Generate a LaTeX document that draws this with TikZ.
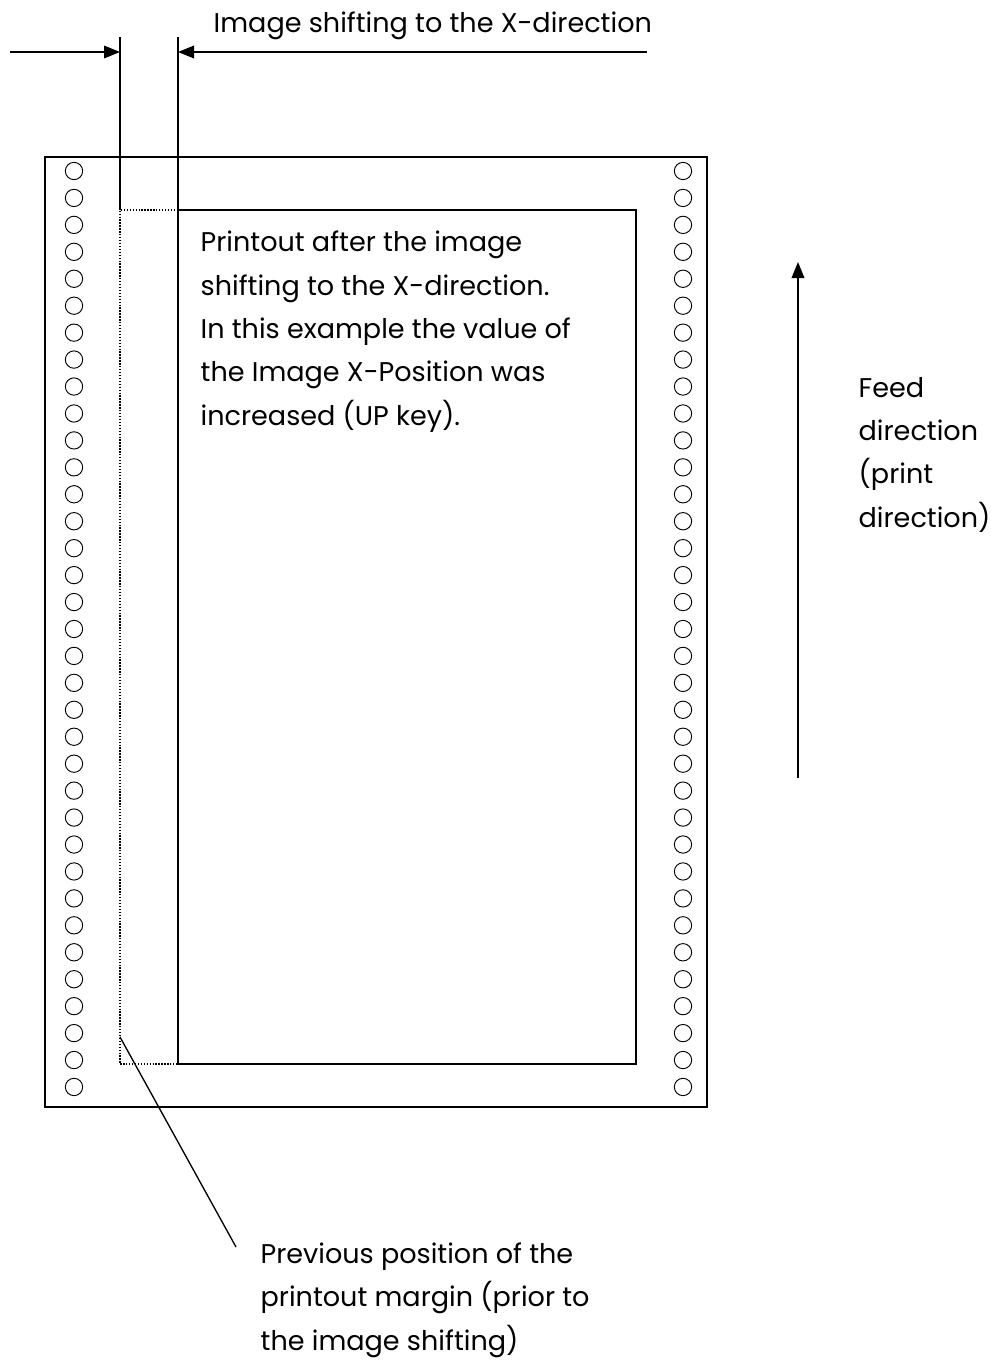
\documentclass[tikz,border=0pt]{standalone}
\usepackage{fontspec}
\setmainfont{Poppins}
\usetikzlibrary{arrows.meta}

\tikzset{
  hole/.style={circle, draw, line width=0.7pt, minimum size=13pt, inner sep=0pt},
  txt/.style={align=left, inner sep=0pt, anchor=base west, font=\fontsize{20.3}{32.5}\selectfont},
  arrow/.style={line width=1pt, -{Triangle[length=12pt, width=9.5pt]}},
  oldedge/.style={line width=1.3pt, dash pattern=on 1pt off 1.2pt},
}

\begin{document}
\begin{tikzpicture}[x=0.75pt, y=-0.75pt, line width=1pt]
			\useasboundingbox (0,0) rectangle (991,1360);
			
			\draw (45,157) rectangle (707,1107);
			\foreach \i in {0,...,34} {
				\node[hole] (l\i) at (74,{171+26.94*\i}) {};
				\node[hole] (r\i) at (683,{171+26.94*\i}) {};
			}
			
			\coordinate (oldnw) at (120,210);
			\coordinate (oldsw) at (120,1064);
			\coordinate (newnw) at (178,210);
			\coordinate (newsw) at (178,1064);
			\coordinate (newse) at (636,1064);
			\coordinate (oldtop) at (120,37);
			\coordinate (newtop) at (178,37);
			\coordinate (oldmark) at (120,52);
			\coordinate (newmark) at (178,52);
			\coordinate (leftend) at (10,52);
			\coordinate (rightend) at (647,52);
			
			\draw (newnw) rectangle (newse);
			\draw[oldedge] (newnw) -- (oldnw) -- (oldsw) -- (newsw);
			\draw (oldnw) -- (oldtop);
			\draw (newnw) -- (newtop);
			\draw[arrow] (leftend) -- (oldmark);
			\draw[arrow] (rightend) -- (newmark);
			
			\node[txt] (shift) at (213,32) {Image shifting to the X-direction};
			\node[txt] (printout) at (200,425) {Printout after the image\\shifting to the X-direction.\\In this example the value of\\the Image X-Position was\\increased (UP key).};
			
			\coordinate (feedtail) at (798,778);
			\coordinate (feedhead) at (798,262);
			\draw[arrow] (feedtail) -- (feedhead);
			\node[txt] (feed) at (858,527) {Feed\\direction\\(print\\direction)};
			
			\coordinate (leadstart) at (120,1037);
			\coordinate (leadend) at (236,1247);
			\draw (leadstart) -- (leadend);
			\node[txt] (previous) at (260,1350) {Previous position of the\\printout margin (prior to\\the image shifting)};
		\end{tikzpicture}
\end{document}
